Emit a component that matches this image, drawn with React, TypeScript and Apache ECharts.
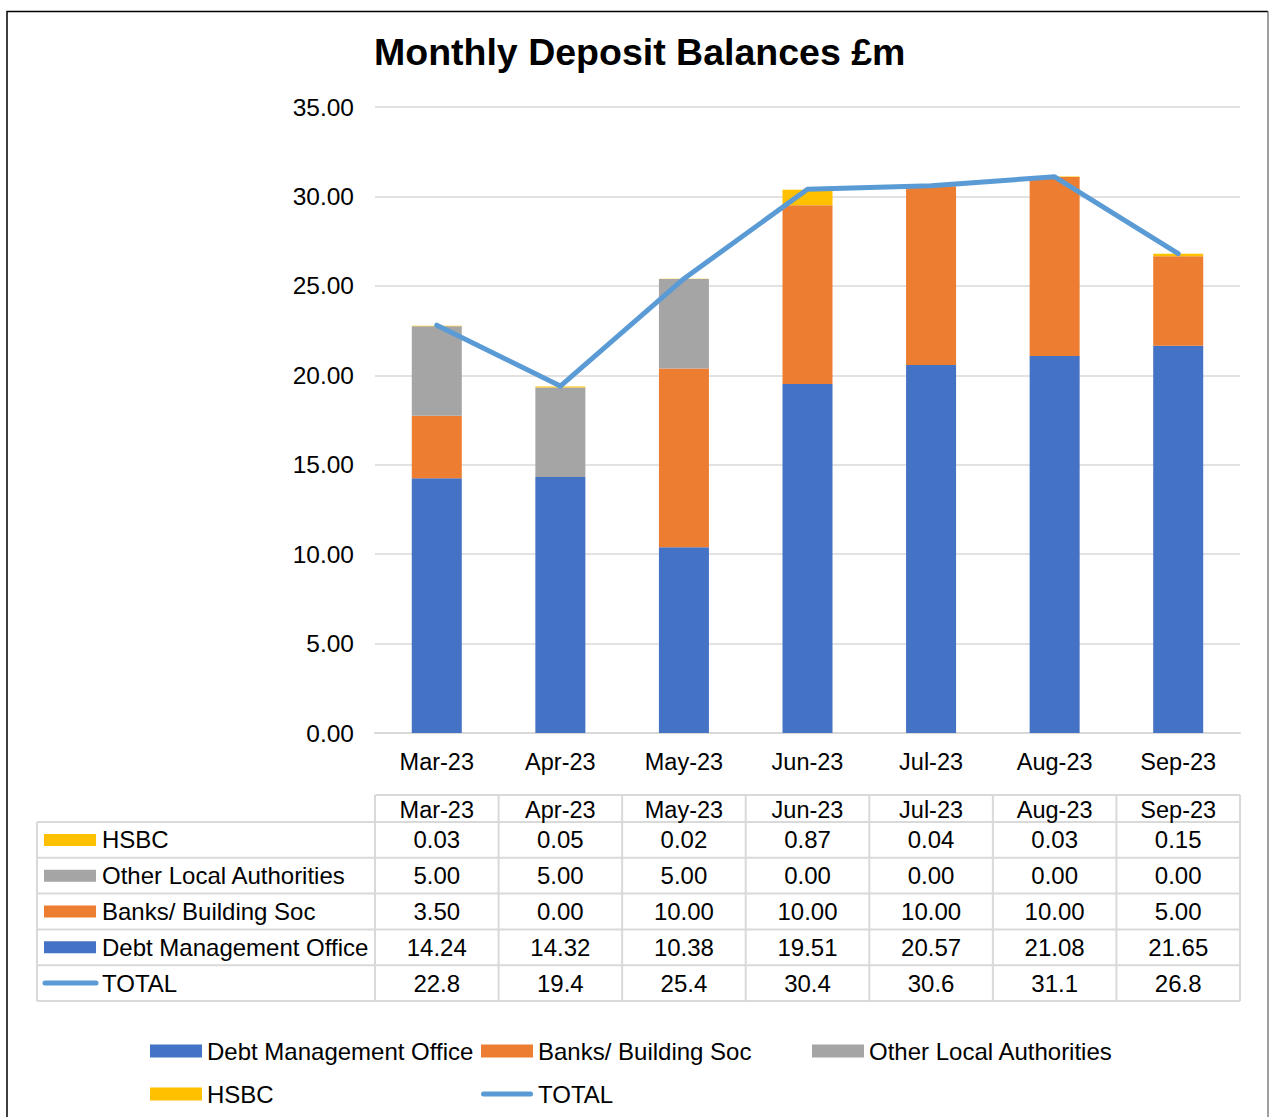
import React, { useEffect, useRef } from "react";
import * as echarts from "echarts";

const categories = ["Mar-23", "Apr-23", "May-23", "Jun-23", "Jul-23", "Aug-23", "Sep-23"];
const debtManagementOffice = [14.24, 14.32, 10.38, 19.51, 20.57, 21.08, 21.65];
const banksBuildingSoc = [3.5, 0.0, 10.0, 10.0, 10.0, 10.0, 5.0];
const otherLocalAuthorities = [5.0, 5.0, 5.0, 0.0, 0.0, 0.0, 0.0];
const hsbc = [0.03, 0.05, 0.02, 0.87, 0.04, 0.03, 0.15];
const total = [22.8, 19.4, 25.4, 30.4, 30.6, 31.1, 26.8];

const C_DMO = "#4472C4";
const C_BANK = "#ED7D31";
const C_OLA = "#A5A5A5";
const C_HSBC = "#FFC000";
const C_TOTAL = "#5B9BD5";

const FONT = "'Liberation Sans', Arial, Helvetica, sans-serif";
const FS = 24;

export default function App() {
  const ref = useRef<HTMLDivElement>(null);

  useEffect(() => {
    if (!ref.current) return;
    const chart = echarts.init(ref.current, null, { renderer: "svg" });

    const W = 1269;
    const gridLeft = 375;
    const gridRight = 29;
    const plotRight = W - gridRight;
    const colW = (plotRight - gridLeft) / categories.length;
    const tableLeft = 37;
    const headerTop = 795;
    const rowTop = 822;
    const rowH = 35.8;

    const tableRows = [
      { name: "HSBC", color: C_HSBC, values: hsbc, digits: 2, line: false },
      { name: "Other Local Authorities", color: C_OLA, values: otherLocalAuthorities, digits: 2, line: false },
      { name: "Banks/ Building Soc", color: C_BANK, values: banksBuildingSoc, digits: 2, line: false },
      { name: "Debt Management Office", color: C_DMO, values: debtManagementOffice, digits: 2, line: false },
      { name: "TOTAL", color: C_TOTAL, values: total, digits: 1, line: true },
    ];

    const borderStyle = { stroke: "#D9D9D9", lineWidth: 2 };
    const g: any[] = [];
    const tableBottom = rowTop + rowH * tableRows.length;

    // frame
    g.push({
      type: "polyline",
      shape: { points: [[7, 1130], [7, 11.5], [1268, 11.5]] },
      style: { stroke: "#000", lineWidth: 1.5, fill: "none" },
      silent: true,
    });
    g.push({
      type: "line",
      shape: { x1: 1268, y1: 11.5, x2: 1268, y2: 1130 },
      style: { stroke: "#7F7F7F", lineWidth: 1.5 },
      silent: true,
    });

    // table horizontal lines
    g.push({ type: "line", shape: { x1: gridLeft, y1: headerTop, x2: plotRight, y2: headerTop }, style: borderStyle, silent: true });
    for (let r = 0; r <= tableRows.length; r++) {
      const y = rowTop + r * rowH;
      g.push({ type: "line", shape: { x1: tableLeft, y1: y, x2: plotRight, y2: y }, style: borderStyle, silent: true });
    }
    // vertical lines
    g.push({ type: "line", shape: { x1: tableLeft, y1: rowTop, x2: tableLeft, y2: tableBottom }, style: borderStyle, silent: true });
    for (let c = 0; c <= categories.length; c++) {
      const x = gridLeft + c * colW;
      g.push({ type: "line", shape: { x1: x, y1: headerTop, x2: x, y2: tableBottom }, style: borderStyle, silent: true });
    }
    // header texts
    categories.forEach((cat, i) => {
      g.push({
        type: "text",
        x: gridLeft + (i + 0.5) * colW,
        y: (headerTop + rowTop) / 2 + 1,
        style: { text: cat, fontSize: 23.5, fontFamily: FONT, fill: "#000", align: "center", verticalAlign: "middle" },
        silent: true,
      });
    });
    // rows
    tableRows.forEach((row, r) => {
      const cy = rowTop + (r + 0.5) * rowH;
      if (row.line) {
        g.push({
          type: "line",
          shape: { x1: 45, y1: cy, x2: 96, y2: cy },
          style: { stroke: row.color, lineWidth: 5, lineCap: "round" },
          silent: true,
        });
      } else {
        g.push({
          type: "rect",
          shape: { x: 44, y: cy - 6, width: 52, height: 12 },
          style: { fill: row.color },
          silent: true,
        });
      }
      g.push({
        type: "text",
        x: 102,
        y: cy,
        style: { text: row.name, fontSize: FS, fontFamily: FONT, fill: "#000", align: "left", verticalAlign: "middle" },
        silent: true,
      });
      row.values.forEach((v, i) => {
        g.push({
          type: "text",
          x: gridLeft + (i + 0.5) * colW,
          y: cy,
          style: { text: v.toFixed(row.digits), fontSize: FS, fontFamily: FONT, fill: "#000", align: "center", verticalAlign: "middle" },
          silent: true,
        });
      });
    });

    const legendText = { fontSize: FS, fontFamily: FONT, color: "#000" };
    const mkLegend = (name: string, left: number, top: number, icon?: string, ih = 13) => ({
      data: [icon ? { name, icon } : name],
      left,
      top,
      itemWidth: 52,
      itemHeight: ih,
      selectedMode: false,
      textStyle: legendText,
      padding: 0,
    });

    const lineIcon = "path://M2.5,0 H49.5 A2.5,2.5 0 0 1 49.5,5 H2.5 A2.5,2.5 0 0 1 2.5,0 Z";

    const option: any = {
      animation: false,
      backgroundColor: "#fff",
      textStyle: { fontFamily: FONT },
      title: {
        text: "Monthly Deposit Balances £m",
        left: 374,
        top: 33,
        padding: 0,
        textStyle: { fontSize: 37.5, fontWeight: "bold", fontFamily: FONT, color: "#000" },
      },
      legend: [
        mkLegend("Debt Management Office", 150, 1039, "rect"),
        mkLegend("Banks/ Building Soc", 481, 1039, "rect"),
        mkLegend("Other Local Authorities", 812, 1039, "rect"),
        mkLegend("HSBC", 150, 1082, "rect"),
        mkLegend("TOTAL", 481, 1082, lineIcon, 5),
      ],
      grid: { left: gridLeft, right: gridRight, top: 107, height: 626, containLabel: false },
      xAxis: {
        type: "category",
        data: categories,
        axisLine: { lineStyle: { color: "#D9D9D9", width: 2 } },
        axisTick: { show: false },
        axisLabel: { fontSize: 23.5, fontFamily: FONT, color: "#000", margin: 17 },
      },
      yAxis: {
        type: "value",
        min: 0,
        max: 35,
        interval: 5,
        axisLine: { show: false },
        axisTick: { show: false },
        splitLine: { lineStyle: { color: "#D9D9D9", width: 1.5 } },
        axisLabel: {
          fontSize: 24.5,
          fontFamily: FONT,
          color: "#000",
          margin: 21,
          formatter: (v: number) => v.toFixed(2),
        },
      },
      series: [
        { name: "Debt Management Office", type: "bar", stack: "s", data: debtManagementOffice, barWidth: 50, itemStyle: { color: C_DMO } },
        { name: "Banks/ Building Soc", type: "bar", stack: "s", data: banksBuildingSoc, barWidth: 50, itemStyle: { color: C_BANK } },
        { name: "Other Local Authorities", type: "bar", stack: "s", data: otherLocalAuthorities, barWidth: 50, itemStyle: { color: C_OLA } },
        { name: "HSBC", type: "bar", stack: "s", data: hsbc, barWidth: 50, itemStyle: { color: C_HSBC } },
        {
          name: "TOTAL",
          type: "line",
          data: total,
          symbol: "none",
          z: 5,
          itemStyle: { color: C_TOTAL },
          lineStyle: { color: C_TOTAL, width: 5, cap: "round", join: "round" },
        },
      ],
      graphic: g,
    };

    chart.setOption(option);
    return () => chart.dispose();
  }, []);

  return (
    <div
      ref={ref}
      style={{ position: "absolute", left: 0, top: 0, width: 1269, height: 1117 }}
    />
  );
}
